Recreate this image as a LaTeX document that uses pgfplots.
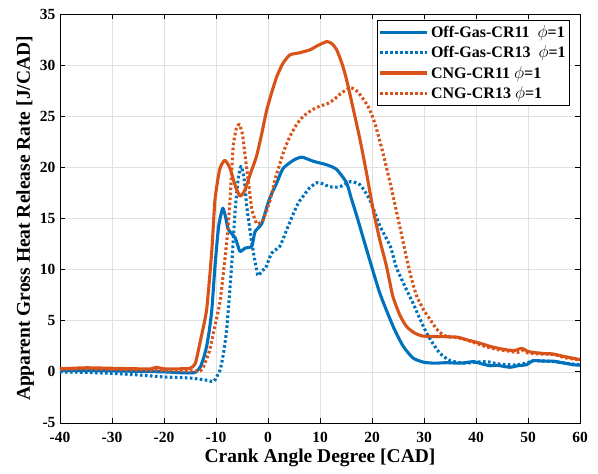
\documentclass[border=0pt]{standalone}
\usepackage{fontspec}
\setmainfont{Liberation Serif}
\usepackage{pgfplots}
\pgfplotsset{compat=1.18}

\definecolor{mblue}{RGB}{0,114,189}
\definecolor{morange}{RGB}{217,83,25}

\tikzset{
  hrrsolid/.style={line width=3.1pt, solid, line join=round, smooth, tension=0.35},
  hrrdot/.style={line width=3.1pt, dash pattern=on 2.6pt off 2.4pt, line join=round, smooth, tension=0.35},
}

\begin{document}
\begin{tikzpicture}
\begin{axis}[
  name=ax,
  scale only axis,
  width=520pt, height=409pt,
  xmin=-40, xmax=60, ymin=-5, ymax=35,
  xtick={-40,-30,...,60},
  ytick={-5,0,...,35},
  grid=major,
  major grid style={black!12, line width=0.6pt},
  axis line style={black, line width=0.8pt},
  tick align=inside,
  major tick length=5pt,
  tick style={black, line width=0.8pt},
  /pgf/number format/assume math mode=true,
  ticklabel style={font=\fontsize{15.5}{17}\selectfont\bfseries},
  xticklabel style={yshift=-6pt},
  yticklabel style={xshift=-1pt},
  xlabel={Crank Angle Degree [CAD]},
  ylabel={Apparent Gross Heat Release Rate [J/CAD]},
  xlabel style={font=\fontsize{19.5}{22}\selectfont\bfseries,
    at={([yshift=-40pt]axis description cs:0.5,0)}, anchor=base},
  ylabel style={font=\fontsize{19.5}{22}\selectfont\bfseries,
    at={([xshift=-30pt]axis description cs:0,0.5)}, anchor=base},
  legend style={at={(1,1)}, anchor=north east, xshift=-10pt, yshift=-6pt,
    draw=black, line width=0.6pt, fill=white,
    font=\fontsize{16}{18}\selectfont\bfseries,
    row sep=3pt, inner xsep=2pt, inner ysep=3pt},
  legend cell align=left,
  legend image code/.code={\draw[#1] (0pt,0pt) -- (47pt,0pt);},
]
% Off-Gas, compression ratio 11
\addplot[mblue, hrrsolid] coordinates {
(-40,0.15) (-35,0.15) (-30,0.1) (-25,0.05) (-20,0.0) (-16,-0.1) (-14,-0.05)
(-13,0.5) (-12.3,1.5) (-11.8,2.5) (-11.3,4.0) (-10.8,6.1) (-10.2,10.3)
(-9.5,14.2) (-8.7,16.0) (-8.1,15.0) (-7.6,13.9) (-6.3,13.1) (-5.4,11.8)
(-4.4,12.1) (-3.1,12.3) (-2.5,13.7) (-1.2,14.5) (0,16.5) (0.6,17.3)
(1.7,18.5) (2.9,19.9) (4.9,20.7) (6.5,21.0) (8.7,20.6) (11.3,20.25)
(13.2,19.8) (15.1,18.5) (16.0,17.0) (17.1,15.2) (19.0,11.9) (21.5,7.7)
(24.1,4.4) (26.0,2.5) (27.9,1.35) (29.9,0.95) (32,0.85) (34.4,0.9)
(37,0.85) (39.5,1.0) (41,0.8) (42.7,0.6) (44,0.65) (46.5,0.45) (48,0.6)
(49.7,0.7) (51,1.1) (53,1.05) (54.8,1.05) (56.5,0.9) (58.7,0.7) (60,0.65)
};
\addlegendentry{Off-Gas-CR11 \ $\phi$=1}
% Off-Gas, compression ratio 13
\addplot[mblue, hrrdot] coordinates {
(-40,0.0) (-35,-0.05) (-30,-0.15) (-25,-0.3) (-20,-0.5) (-15,-0.6)
(-12,-0.8) (-10.5,-0.95) (-9.9,-0.5) (-9.2,0.2) (-8.5,2.0) (-7.9,4.4)
(-7.0,10.3) (-6.3,15.9) (-5.7,19.0) (-5.2,20.1) (-4.8,19.5) (-4.4,18.1)
(-4.1,16.2) (-3.1,12.6) (-2.0,9.5) (-1.4,9.7) (-0.9,10.0) (-0.5,10.1)
(0.7,11.6) (2.3,12.3) (3.6,13.9) (4.9,15.5) (5.8,16.5) (6.8,17.2)
(8.0,18.0) (9.4,18.5) (10.5,18.4) (11.9,18.1) (13.8,18.1) (15.8,18.6)
(17.7,18.3) (19.6,16.8) (21.5,14.3) (23.5,12.3) (24.7,10.2) (26.3,8.4)
(27.9,6.7) (29.2,5.2) (30.5,3.8) (31.8,2.7) (33.1,1.8) (35,1.1)
(37.7,0.85) (40,0.95) (42.1,1.0) (44,0.8) (46,0.7) (48,0.7) (50,0.9)
(51,1.1) (55,1.0) (58,0.8) (60,0.7)
};
\addlegendentry{Off-Gas-CR13 \ $\phi$=1}
% CNG, compression ratio 11
\addplot[morange, hrrsolid] coordinates {
(-40,0.3) (-35,0.4) (-30,0.35) (-25,0.3) (-22.5,0.3) (-21.5,0.45) (-20,0.3)
(-17,0.3) (-15,0.35) (-14,0.8) (-13.1,2.8) (-11.8,6.1) (-10.8,11.9)
(-10.2,16.8) (-9.3,19.8) (-8.3,20.7) (-7.3,19.9) (-6.3,18.2) (-5.4,17.2)
(-4.5,17.7) (-3.3,19.5) (-2.2,21.1) (-1.2,23.3) (-0.25,25.6) (0.7,27.3)
(1.7,28.9) (2.9,30.2) (4.2,31.0) (6,31.2) (8.1,31.5) (9.5,31.9)
(11.3,32.3) (12.3,32.1) (13.2,31.5) (14.2,30.2) (15.1,28.6) (16.4,25.7)
(17.7,22.7) (19,19.3) (20.2,15.9) (21.5,12.9) (22.8,10.3) (24.0,7.4)
(25.4,5.5) (26.7,4.4) (28.2,3.8) (29.8,3.5) (33,3.45) (36.3,3.4)
(38.5,3.1) (40.8,2.8) (43,2.45) (45.9,2.15) (47.5,2.1) (48.8,2.3)
(50,2.0) (51,1.9) (53,1.8) (54.8,1.75) (57,1.5) (59,1.3) (60,1.2)
};
\addlegendentry{CNG-CR11 $\phi$=1}
% CNG, compression ratio 13
\addplot[morange, hrrdot] coordinates {
(-40,0.25) (-35,0.3) (-30,0.25) (-25,0.2) (-20,0.15) (-15,0.1) (-13,0.1)
(-12.4,0.5) (-11.3,2.0) (-10.5,3.8) (-9.2,7.0) (-7.9,12.9) (-7.3,16.8)
(-6.7,22.0) (-6.1,23.8) (-5.5,24.2) (-4.9,23.2) (-4.4,21.1) (-3.7,18.3)
(-3.1,15.9) (-2.2,14.5) (-1.5,14.6) (-0.9,14.9) (0.4,16.8) (1.3,18.7)
(2.3,20.4) (3.2,21.8) (4.2,23.0) (5.5,24.2) (6.8,25.0) (8.4,25.6)
(10.0,26.0) (11.3,26.2) (12.6,26.6) (14.2,27.3) (15.8,27.8) (17,27.5)
(18.0,26.9) (19.2,26.0) (20.3,24.7) (21.5,22.6) (22.5,20.6) (23.7,18.0)
(24.8,15.5) (26.7,11.0) (27.6,9.1) (28.6,7.4) (29.9,6.1) (31.2,5.1)
(32.4,4.2) (33.7,3.6) (35,3.4) (36.5,3.35) (38,3.15) (40,2.8) (42,2.45)
(44,2.2) (46,2.05) (48,1.9) (49,2.1) (50,1.85) (52,1.75) (55,1.7)
(57,1.4) (60,1.15)
};
\addlegendentry{CNG-CR13 $\phi$=1}
\end{axis}
\path[use as bounding box] ([shift={(-60pt,-51pt)}]ax.south west)
  rectangle ([shift={(18pt,14pt)}]ax.north east);
\end{tikzpicture}
\end{document}
